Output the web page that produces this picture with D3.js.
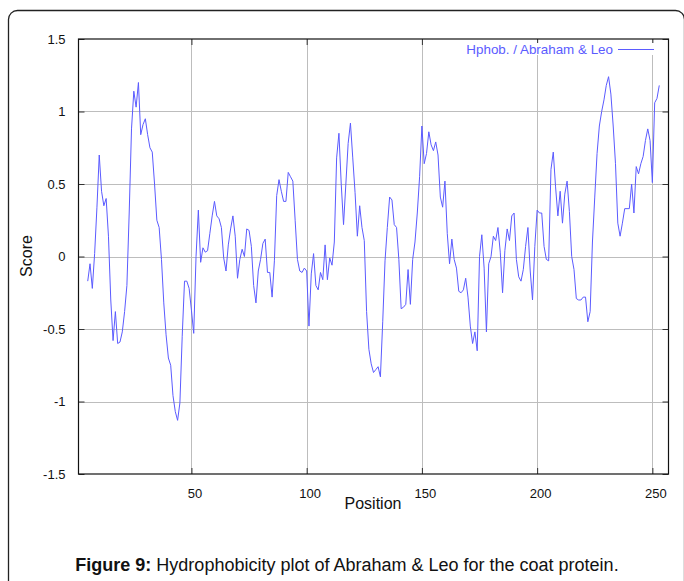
<!DOCTYPE html>
<html>
<head>
<meta charset="utf-8">
<script src="https://cdn.jsdelivr.net/npm/d3@7"></script>
<style>
  html, body { margin: 0; padding: 0; background: #fff; }
  svg { display: block; font-family: "Liberation Sans", Arial, sans-serif; }
</style>
</head>
<body>
<svg id="chart" width="684" height="581"></svg>
<script>
// ---- data ----
const startPosition = 5; // first residue position of the sliding window
const scores = [
  -0.17, -0.05, -0.22, 0.02, 0.34, 0.70, 0.45, 0.35, 0.40, 0.14,        // 5-14
  -0.30, -0.58, -0.38, -0.60, -0.59, -0.52, -0.38, -0.20, 0.30, 0.88,   // 15-24
  1.14, 1.03, 1.20, 0.84, 0.91, 0.95, 0.84, 0.75, 0.72, 0.50,           // 25-34
  0.25, 0.20, -0.02, -0.32, -0.54, -0.70, -0.75, -0.96, -1.07, -1.13,   // 35-44
  -1.01, -0.55, -0.17, -0.17, -0.22, -0.37, -0.53, 0.00, 0.32, -0.04,   // 45-54
  0.06, 0.03, 0.04, 0.16, 0.28, 0.38, 0.28, 0.26, 0.20, -0.01,          // 55-64
  -0.10, 0.08, 0.19, 0.28, 0.14, -0.15, -0.02, 0.05, 0.00, 0.19,        // 65-74
  0.18, 0.07, -0.20, -0.32, -0.10, -0.02, 0.09, 0.12, -0.11, -0.11,     // 75-84
  -0.28, -0.03, 0.42, 0.53, 0.45, 0.38, 0.38, 0.58, 0.55, 0.52,         // 85-94
  0.25, -0.02, -0.10, -0.11, -0.08, -0.10, -0.48, -0.12, 0.02, -0.20,   // 95-104
  -0.23, -0.11, -0.16, 0.08, -0.16, -0.01, -0.06, 0.10, 0.68, 0.85,     // 105-114
  0.50, 0.22, 0.50, 0.78, 0.92, 0.68, 0.44, 0.14, 0.35, 0.20,           // 115-124
  0.11, -0.38, -0.64, -0.74, -0.80, -0.78, -0.76, -0.83, -0.45, -0.03,  // 125-134
  0.20, 0.41, 0.39, 0.22, 0.20, -0.02, -0.36, -0.35, -0.33, -0.09,      // 135-144
  -0.33, -0.02, 0.10, 0.30, 0.55, 0.90, 0.64, 0.71, 0.86, 0.77,         // 145-154
  0.73, 0.79, 0.70, 0.41, 0.34, 0.52, 0.16, -0.05, 0.12, -0.02,         // 155-164
  -0.08, -0.24, -0.25, -0.23, -0.15, -0.28, -0.48, -0.60, -0.52, -0.65, // 165-174
  0.00, 0.15, -0.08, -0.52, -0.05, 0.00, 0.14, 0.11, 0.20, 0.03,        // 175-184
  -0.25, 0.04, 0.19, 0.11, 0.28, 0.30, -0.02, -0.14, -0.17, -0.09,      // 185-194
  0.07, 0.20, -0.10, -0.30, 0.07, 0.32, 0.30, 0.30, 0.07, -0.02,        // 195-204
  -0.03, 0.60, 0.72, 0.48, 0.28, 0.45, 0.23, 0.43, 0.52, 0.31,          // 205-214
  0.00, -0.09, -0.29, -0.30, -0.30, -0.28, -0.28, -0.45, -0.38, 0.10,   // 215-224
  0.41, 0.71, 0.90, 1.00, 1.08, 1.18, 1.24, 1.12, 0.90, 0.64,           // 225-234
  0.23, 0.14, 0.23, 0.33, 0.33, 0.33, 0.50, 0.30, 0.62, 0.57,           // 235-244
  0.64, 0.69, 0.80, 0.88, 0.80, 0.51, 1.06, 1.09, 1.18                  // 245-253
];
const xTicks = [50, 100, 150, 200, 250];
const yTicks = [-1.5, -1, -0.5, 0, 0.5, 1, 1.5];
const xDomain = [1, 257];
const yDomain = [-1.5, 1.5];
const seriesName = "Hphob. / Abraham & Leo";
const xTitle = "Position";
const yTitle = "Score";
const captionBold = "Figure 9:";
const captionText = " Hydrophobicity plot of Abraham & Leo for the coat protein.";

// ---- layout ----
const L = 78.5, R = 668.5, T = 39, B = 474;
const lineColor = "#5b5bff";

const svg = d3.select("#chart");

// outer frame
svg.append("rect")
  .attr("x", 8.5).attr("y", 10.5)
  .attr("width", 676).attr("height", 620)
  .attr("rx", 9).attr("ry", 9)
  .attr("fill", "none").attr("stroke", "#222").attr("stroke-width", 1.3);

const x = d3.scaleLinear().domain(xDomain).range([L, R]);
const y = d3.scaleLinear().domain(yDomain).range([B, T]);

// grid
const grid = svg.append("g").attr("stroke", "#bdbdbd").attr("stroke-width", 1);
grid.selectAll(".gx").data(xTicks).join("line")
  .attr("x1", d => Math.round(x(d)) + 0.5).attr("x2", d => Math.round(x(d)) + 0.5)
  .attr("y1", T).attr("y2", B);
grid.selectAll(".gy").data(yTicks.filter(d => d > yDomain[0] && d < yDomain[1])).join("line")
  .attr("y1", d => Math.round(y(d)) + 0.5).attr("y2", d => Math.round(y(d)) + 0.5)
  .attr("x1", L).attr("x2", R);

// axes with inward mirror ticks
const tickLen = 6;
const fmt = d => String(d);
const axB = svg.append("g").attr("transform", `translate(0,${B})`)
  .call(d3.axisBottom(x).tickValues(xTicks).tickSize(-tickLen).tickPadding(tickLen + 9).tickFormat(fmt));
const axT = svg.append("g").attr("transform", `translate(0,${T})`)
  .call(d3.axisTop(x).tickValues(xTicks).tickSize(-tickLen).tickFormat(""));
const axL = svg.append("g").attr("transform", `translate(${L},0)`)
  .call(d3.axisLeft(y).tickValues(yTicks).tickSize(-tickLen).tickPadding(tickLen + 7).tickFormat(fmt));
const axR = svg.append("g").attr("transform", `translate(${R},0)`)
  .call(d3.axisRight(y).tickValues(yTicks).tickSize(-tickLen).tickFormat(""));
[axB, axT, axL, axR].forEach(a => {
  a.select(".domain").remove();
  a.selectAll(".tick line").attr("stroke", "#333");
  a.selectAll("text").attr("font-size", 13).attr("fill", "#111")
    .attr("font-family", "'Liberation Sans', Arial, sans-serif");
});
axB.selectAll("text").attr("dx", 3);

// plot border
svg.append("rect").attr("x", L).attr("y", T).attr("width", R - L).attr("height", B - T)
  .attr("fill", "none").attr("stroke", "#111").attr("stroke-width", 1.2);

// legend (opaque key)
const legendG = svg.append("g");
legendG.append("rect").attr("x", 462).attr("y", 43).attr("width", 198).attr("height", 12).attr("fill", "#fff");
legendG.append("text").attr("x", 613).attr("y", 53.5).attr("text-anchor", "end")
  .attr("font-size", 13.4).attr("fill", lineColor).text(seriesName);
legendG.append("line").attr("x1", 618).attr("x2", 654).attr("y1", 49.5).attr("y2", 49.5)
  .attr("stroke", lineColor).attr("stroke-width", 1);

// series line
const line = d3.line()
  .x((d, i) => x(startPosition + i))
  .y(d => y(d));
svg.append("path").datum(scores)
  .attr("d", line)
  .attr("fill", "none").attr("stroke", lineColor).attr("stroke-width", 1)
  .attr("stroke-linejoin", "round");

// titles
svg.append("text").attr("x", 373).attr("y", 509).attr("text-anchor", "middle")
  .attr("font-size", 16).attr("fill", "#111").text(xTitle);
svg.append("text").attr("transform", "translate(32,256) rotate(-90)").attr("text-anchor", "middle")
  .attr("font-size", 16).attr("fill", "#111").text(yTitle);

// caption
const cap = svg.append("text").attr("x", 347).attr("y", 571).attr("text-anchor", "middle")
  .attr("font-size", 18).attr("fill", "#111");
cap.append("tspan").attr("font-weight", "bold").text(captionBold);
cap.append("tspan").text(captionText);
</script>
</body>
</html>
